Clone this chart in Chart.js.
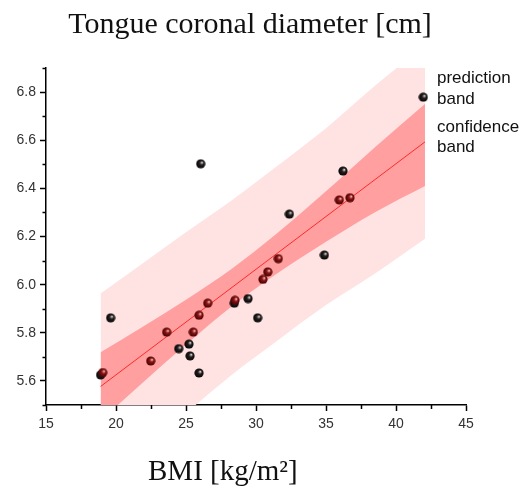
<!DOCTYPE html>
<html>
<head>
<meta charset="utf-8">
<style>
  html, body { margin: 0; padding: 0; background: #fff; }
</style>
<script src="https://cdn.jsdelivr.net/npm/chart.js@4.4.1/dist/chart.umd.min.js"></script>
</head>
<body>
<canvas id="chart" width="528" height="492"></canvas>
<script>
// data
const redX = [19.05, 22.48, 23.62, 25.52, 25.93, 26.55, 28.5, 30.5, 30.84, 31.59, 35.95, 36.71];
const redY = [5.635, 5.683, 5.803, 5.803, 5.873, 5.923, 5.935, 6.022, 6.053, 6.108, 6.352, 6.361];
const blackX = [18.9, 19.62, 24.48, 25.21, 25.29, 25.93, 26.05, 28.45, 29.43, 30.12, 32.38, 34.88, 36.21, 41.95];
const blackY = [5.625, 5.862, 5.734, 5.753, 5.704, 5.633, 6.502, 5.923, 5.942, 5.862, 6.293, 6.123, 6.472, 6.779];

const fitX = [18.9, 42.07];
const fitY = [5.577, 6.593];

const bandX = [18.9, 22, 25, 28.3, 31.4, 35, 38.5, 42.07];
const confUp = [5.719, 5.828, 5.937, 6.067, 6.208, 6.388, 6.571, 6.75];
const confLo = [5.435, 5.598, 5.751, 5.911, 6.042, 6.178, 6.301, 6.41];
const predUp = [5.963, 6.092, 6.218, 6.352, 6.488, 6.65, 6.826, 6.995];
const predLo = [5.19, 5.33, 5.467, 5.627, 5.762, 5.915, 6.046, 6.191];

const xTicks = [15, 20, 25, 30, 35, 40, 45];
const xMinor = [17.5, 22.5, 27.5, 32.5, 37.5, 42.5];
const yTicks = [5.6, 5.8, 6.0, 6.2, 6.4, 6.6, 6.8];
const yMinor = [5.5, 5.7, 5.9, 6.1, 6.3, 6.5, 6.7, 6.9];

const yTitle = 'Tongue coronal diameter [cm]';
const xTitle = 'BMI [kg/m²]';
const bandLabels = ['prediction', 'band', 'confidence', 'band'];

const pts = (xs, ys) => xs.map((x, i) => ({ x: x, y: ys[i] }));

// little shaded balls for the markers
function ball(body, edge, shine) {
  const c = document.createElement('canvas');
  c.width = 10; c.height = 10;
  const g = c.getContext('2d');
  const grad = g.createRadialGradient(6.4, 3.6, 0.3, 5, 5, 5);
  grad.addColorStop(0, shine);
  grad.addColorStop(0.35, body);
  grad.addColorStop(1, edge);
  g.fillStyle = grad;
  g.beginPath();
  g.arc(5, 5, 4.6, 0, Math.PI * 2);
  g.fill();
  return c;
}
const redBall = ball('#8e1414', '#3a0000', '#f0b8b8');
const blackBall = ball('#262020', '#000000', '#d8d0d0');

const band = (data, color, fill, order) => ({
  data: data,
  borderWidth: 0,
  pointRadius: 0,
  backgroundColor: color,
  fill: fill,
  order: order,
  cubicInterpolationMode: 'monotone'
});

// minor ticks + free text
const extras = {
  id: 'extras',
  afterDraw(chart) {
    const c = chart.ctx;
    const xs = chart.scales.x, ys = chart.scales.y;
    c.save();
    c.strokeStyle = '#000';
    c.lineWidth = 1.5;
    c.beginPath();
    xMinor.forEach(v => {
      const px = Math.round(xs.getPixelForValue(v)) + 0.5;
      c.moveTo(px, ys.bottom);
      c.lineTo(px, ys.bottom + 4);
    });
    yMinor.forEach(v => {
      const py = Math.round(ys.getPixelForValue(v)) + 0.5;
      c.moveTo(xs.left, py);
      c.lineTo(xs.left - 3.5, py);
    });
    c.stroke();

    c.fillStyle = '#111';
    c.font = '30px "Liberation Serif"';
    c.textAlign = 'center';
    c.fillText(yTitle, 250, 33);
    c.textAlign = 'left';
    c.font = '29px "Liberation Serif"';
    c.fillText(xTitle, 148, 480);

    c.font = '17px "Liberation Sans"';
    const lineY = [83, 104, 132, 152];
    bandLabels.forEach((t, i) => c.fillText(t, 437, lineY[i]));
    c.restore();
  }
};

new Chart(document.getElementById('chart'), {
  type: 'line',
  data: {
    datasets: [
      band(pts(bandX, predUp), '#ffe2e2', '+1', 6),
      band(pts(bandX, predLo), '#ffe2e2', false, 5),
      band(pts(bandX, confUp), '#ff9f9f', '+1', 4),
      band(pts(bandX, confLo), '#ff9f9f', false, 3),
      {
        data: pts(fitX, fitY),
        borderColor: '#ff2a2a',
        borderWidth: 1,
        pointRadius: 0,
        fill: false,
        order: 2
      },
      {
        data: pts(blackX, blackY),
        showLine: false,
        pointStyle: blackBall,
        pointRadius: 5,
        order: 1
      },
      {
        data: pts(redX, redY),
        showLine: false,
        pointStyle: redBall,
        pointRadius: 5,
        order: 0
      }
    ]
  },
  options: {
    responsive: false,
    animation: false,
    layout: { padding: { top: 68, right: 62, bottom: 57, left: 0 } },
    plugins: {
      legend: { display: false },
      tooltip: { enabled: false }
    },
    scales: {
      x: {
        type: 'linear',
        min: 15,
        max: 45,
        afterBuildTicks: s => { s.ticks = xTicks.map(v => ({ value: v })); },
        afterFit: s => { s.height = 30; },
        grid: { drawOnChartArea: false, tickLength: 6, tickWidth: 1.5, tickColor: '#000' },
        border: { color: '#000', width: 1.5 },
        ticks: { color: '#333', padding: 5, font: { family: 'Liberation Sans', size: 14 }, maxRotation: 0 }
      },
      y: {
        min: 5.5,
        max: 6.9,
        afterBuildTicks: s => { s.ticks = yTicks.map(v => ({ value: v })); },
        afterFit: s => { s.width = 46; },
        grid: { drawOnChartArea: false, tickLength: 6, tickWidth: 1.5, tickColor: '#000' },
        border: { color: '#000', width: 1.5 },
        ticks: {
          color: '#333',
          padding: 4,
          font: { family: 'Liberation Sans', size: 14 },
          callback: v => v.toFixed(1)
        }
      }
    }
  },
  plugins: [extras]
});
</script>
</body>
</html>
